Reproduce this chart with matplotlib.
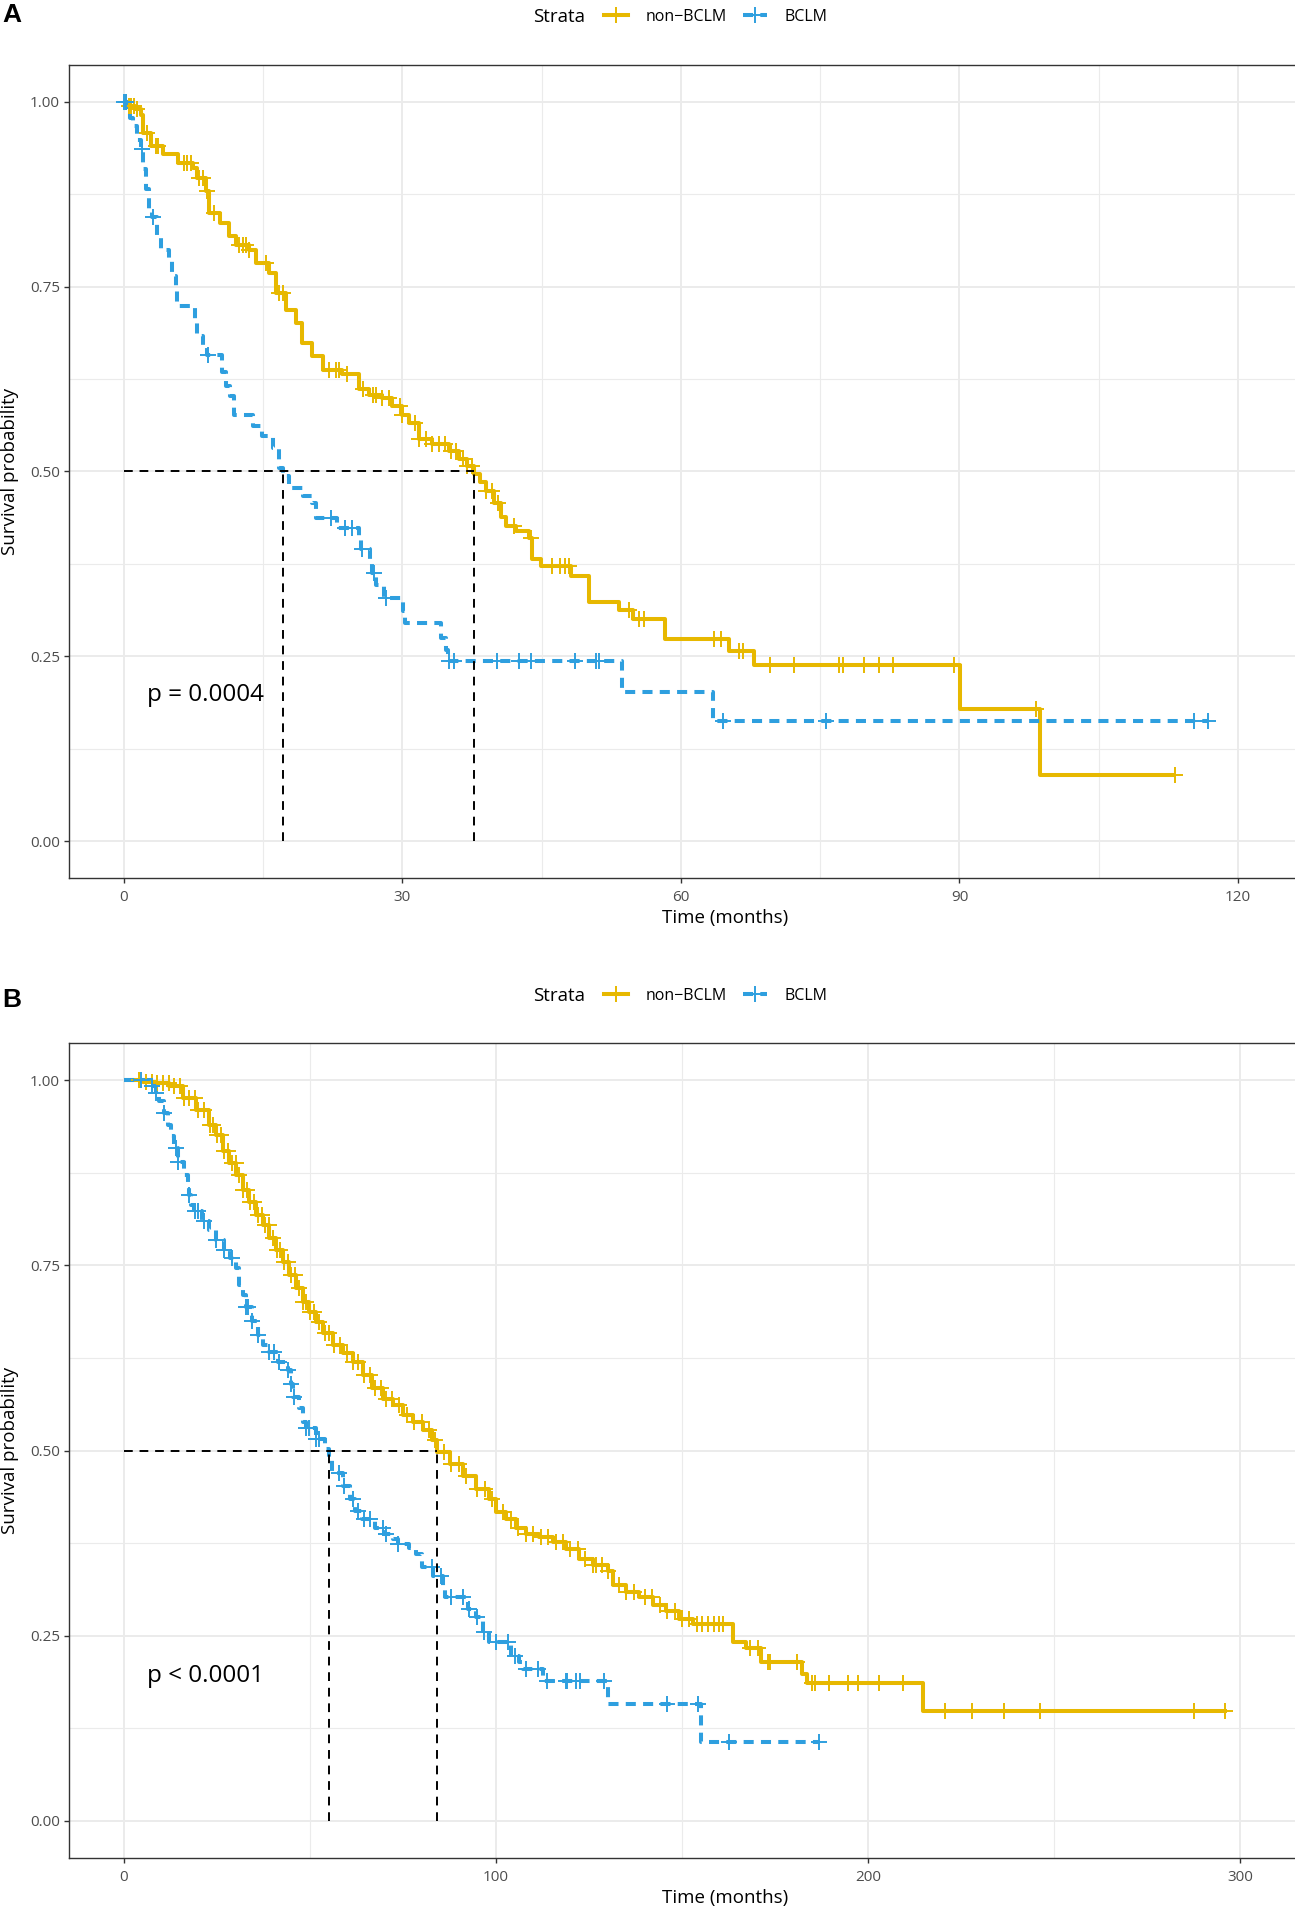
import numpy as np
import matplotlib.pyplot as plt
from matplotlib.lines import Line2D

plt.rcParams['font.family'] = ['Open Sans', 'DejaVu Sans']

W, H = 1295, 1907
YELLOW = '#E7B800'
BLUE = '#2E9FDF'

# ---------------- panel A : step points (time, survival) ----------------
a_non_t = [0, 0.5, 1.2, 1.8, 2.0, 2.9, 4.2, 5.8, 7.4, 7.9, 8.8, 9.2, 10.3, 11.3, 12.1,
           13.5, 14.2, 15.6, 16.4, 17.4, 18.5, 19.2, 20.3, 21.4, 23.5, 25.3, 26.4, 27.8,
           28.9, 30.0, 30.7, 31.8, 33.2, 35.0, 36.1, 37.0, 37.7, 38.3, 39.0, 39.9, 40.6,
           41.1, 42.2, 43.6, 44.0, 44.9, 48.1, 50.1, 53.3, 54.8, 58.3, 65.2, 67.9, 90.1, 98.7]
a_non_s = [1.0, 0.995, 0.99, 0.983, 0.958, 0.94, 0.929, 0.917, 0.911, 0.897, 0.879, 0.85,
           0.836, 0.818, 0.807, 0.8, 0.782, 0.769, 0.742, 0.719, 0.701, 0.674, 0.656, 0.638,
           0.632, 0.611, 0.604, 0.6, 0.589, 0.577, 0.566, 0.544, 0.537, 0.528, 0.517, 0.508,
           0.497, 0.486, 0.473, 0.457, 0.439, 0.426, 0.419, 0.41, 0.381, 0.372, 0.359, 0.324,
           0.313, 0.301, 0.273, 0.257, 0.238, 0.179, 0.09]
a_non_end = 113.2
a_non_cens = [0.2, 0.5, 0.8, 1.1, 1.4, 2.5, 3.4, 3.7, 6.5, 6.8, 7.2, 8.1, 8.5, 8.9, 9.7,
              12.4, 12.8, 13.1, 13.5, 15.3, 16.7, 17.1, 22.1, 22.8, 23.2, 24.0, 25.7, 26.8,
              27.1, 27.8, 28.6, 29.7, 30.0, 31.4, 31.8, 32.5, 33.2, 33.9, 34.6, 35.2, 35.8,
              36.5, 37.0, 37.5, 39.0, 39.6, 40.3, 42.0, 43.8, 46.1, 47.0, 47.5, 47.9, 54.4,
              55.5, 56.0, 63.6, 64.3, 66.3, 66.7, 69.6, 72.2, 77.0, 77.4, 79.7, 81.3, 82.8,
              89.4, 98.2, 113.2]

a_bclm_t = [0, 0.3, 0.7, 1.0, 1.4, 1.8, 2.0, 2.4, 2.7, 3.0, 3.6, 4.0, 4.9, 5.2, 5.6, 5.7,
            7.6, 7.9, 8.5, 8.9, 10.6, 11.0, 11.4, 11.8, 13.9, 14.9, 16.0, 16.7, 17.1, 17.8,
            19.3, 20.2, 20.7, 22.9, 25.3, 25.5, 26.5, 26.7, 27.2, 28.0, 30.1, 30.3, 34.2,
            34.7, 34.9, 53.6, 63.4]
a_bclm_s = [1.0, 0.989, 0.978, 0.967, 0.949, 0.936, 0.909, 0.882, 0.855, 0.844, 0.818, 0.8,
            0.787, 0.764, 0.746, 0.724, 0.706, 0.683, 0.668, 0.657, 0.634, 0.616, 0.602,
            0.577, 0.562, 0.548, 0.532, 0.505, 0.494, 0.478, 0.467, 0.458, 0.437, 0.424,
            0.413, 0.395, 0.377, 0.362, 0.347, 0.329, 0.311, 0.295, 0.275, 0.259, 0.243,
            0.202, 0.162]
a_bclm_end = 116.8
a_bclm_cens = [0.0, 0.2, 1.9, 3.1, 9.0, 22.3, 23.8, 24.6, 25.6, 26.9, 28.2, 35.0, 35.6,
               40.2, 42.6, 43.8, 48.6, 50.8, 51.2, 64.5, 75.6, 115.3, 116.8]

# ---------------- panel B ----------------
b_non_t = [0, 5, 8.6, 12.2, 15.8, 19.4, 22.9, 24.7, 26.5, 28.3, 30.1, 31.9, 33.7, 35.5,
           37.3, 39.1, 40.9, 42.7, 44.4, 46.2, 48.0, 49.8, 51.6, 53.4, 56.1, 58.8, 61.5,
           64.2, 66.8, 69.5, 72.2, 74.9, 77.6, 80.3, 82.9, 84.2, 87.5, 91.0, 94.6, 98.2,
           100.0, 102.7, 105.4, 108.0, 111.6, 115.2, 118.8, 122.4, 126.0, 130.0, 131.4,
           135.0, 138.5, 142.1, 145.7, 149.3, 152.9, 163.6, 167.2, 171.2, 182.2, 183.6, 214.8]
b_non_s = [1.0, 0.998, 0.996, 0.992, 0.976, 0.96, 0.94, 0.926, 0.904, 0.888, 0.872, 0.852,
           0.836, 0.818, 0.805, 0.787, 0.771, 0.755, 0.737, 0.719, 0.701, 0.687, 0.674,
           0.658, 0.642, 0.631, 0.62, 0.602, 0.584, 0.57, 0.561, 0.548, 0.539, 0.527, 0.514,
           0.498, 0.482, 0.466, 0.448, 0.435, 0.417, 0.408, 0.396, 0.387, 0.383, 0.376,
           0.367, 0.354, 0.345, 0.338, 0.318, 0.309, 0.302, 0.291, 0.284, 0.273, 0.266,
           0.241, 0.234, 0.214, 0.198, 0.186, 0.149]
b_non_end = 296.5
b_non_cens = [4, 6, 7.5, 9, 10.5, 12, 13.5, 15, 16, 17.5, 19, 20, 21.5, 23, 24, 25, 26, 27,
              28, 29, 30, 31, 32, 33, 34, 35, 36, 37, 38, 39, 40, 41, 42, 43, 44, 45, 46,
              47, 48, 49, 50, 51, 52.5, 54, 55, 56.5, 58, 60, 61.5, 63, 64.5, 66, 67.5, 69,
              70.5, 72, 74, 76, 78, 80, 82, 83.5, 86, 88, 90, 92, 95, 97, 99, 102, 104, 106,
              108, 110, 112, 114, 116, 118, 120, 122, 124, 126, 127, 128.5, 130, 133, 135,
              137, 140, 142, 144, 146, 148, 150, 152, 154, 155.5, 157, 158.5, 160, 161,
              168.4, 170.3, 173.1, 173.6, 180.8, 185, 185.8, 189.6, 194.6, 197.4, 202.9,
              209.5, 220.6, 227.9, 236.5, 246.2, 287.7, 296.0]

b_bclm_t = [0, 7.3, 8.5, 9.5, 10.8, 11.7, 12.6, 13.5, 14.4, 16.2, 17.1, 17.6, 18.0, 18.9,
            21.0, 22.9, 24.7, 27.0, 28.5, 30.1, 31.0, 31.9, 32.8, 34.5, 35.9, 37.3, 39.1,
            41.5, 44.0, 44.9, 45.3, 47.1, 48.0, 48.9, 51.6, 53.9, 55.0, 55.9, 59.0, 60.8,
            62.1, 63.9, 67.5, 69.8, 72.2, 73.6, 76.7, 78.5, 80.0, 83.0, 85.7, 86.2, 92.4,
            94.6, 96.4, 98.2, 104.0, 106.3, 107.2, 112.5, 130.0, 155.1]
b_bclm_s = [1.0, 0.992, 0.982, 0.972, 0.956, 0.94, 0.924, 0.908, 0.89, 0.872, 0.857, 0.845,
            0.832, 0.823, 0.81, 0.798, 0.784, 0.771, 0.76, 0.746, 0.723, 0.71, 0.694, 0.675,
            0.656, 0.642, 0.633, 0.62, 0.608, 0.59, 0.572, 0.557, 0.539, 0.53, 0.516, 0.502,
            0.491, 0.47, 0.452, 0.434, 0.418, 0.407, 0.396, 0.387, 0.38, 0.374, 0.368, 0.36,
            0.343, 0.331, 0.313, 0.302, 0.286, 0.275, 0.255, 0.241, 0.223, 0.214, 0.205,
            0.189, 0.158, 0.106]
b_bclm_end = 187.0
b_bclm_cens = [4.6, 7.5, 8.5, 10.8, 14.0, 14.6, 17.6, 19.0, 20.0, 21.5, 24.7, 27.0, 29.0,
               32.8, 33.3, 34.5, 35.9, 39.1, 40.3, 41.7, 44.0, 45.0, 45.8, 48.9, 49.8, 51.6,
               52.5, 57.9, 59.2, 61.5, 63.0, 64.5, 66.0, 69.5, 70.5, 73.6, 82.9, 85.2, 88.0,
               91.2, 92.8, 94.9, 96.9, 100.1, 103.2, 105.2, 108.1, 111.2, 113.8, 118.8,
               119.2, 121.4, 122.7, 129.0, 145.9, 154.2, 162.7, 186.9]

legend_labels = ['non\u2212BCLM', 'BCLM']
y_ticks = [0, 0.25, 0.5, 0.75, 1.0]
y_labels = ['0.00', '0.25', '0.50', '0.75', '1.00']


def surv_at(ts, ss, x):
    i = np.searchsorted(ts, x, side='right') - 1
    return np.asarray(ss)[i]


def median(ts, ss):
    for t, s in zip(ts, ss):
        if s <= 0.5:
            return t


def draw_curve(ax, ts, ss, end, cens, color, ls):
    xs = list(ts) + [end]
    ys = list(ss) + [ss[-1]]
    ax.plot(xs, ys, drawstyle='steps-post', color=color, lw=2.9, ls=ls,
            solid_capstyle='butt', dash_capstyle='butt', zorder=3)
    ax.plot(cens, surv_at(ts, ss, cens), ls='none', marker='+', ms=11, mew=1.4,
            color=color, zorder=4)


def panel(rect, curves, pval, xticks, xminor, xlim, letter, letter_y, legend_y):
    ax = fig.add_axes(rect)
    ax.set_xlim(*xlim)
    ax.set_ylim(-0.05, 1.05)
    ax.set_xticks(xticks)
    ax.set_xticks(xminor, minor=True)
    ax.set_yticks(y_ticks)
    ax.set_yticklabels(y_labels)
    ax.set_yticks([0.125, 0.375, 0.625, 0.875], minor=True)
    ax.grid(True, which='major', color='#EBEBEB', lw=1.4, zorder=0)
    ax.grid(True, which='minor', color='#EBEBEB', lw=0.8, zorder=0)
    ax.set_axisbelow(True)
    for sp in ax.spines.values():
        sp.set_color('#333333')
        sp.set_linewidth(1.0)
    ax.tick_params(which='major', length=3.6, width=1.0, color='#333333',
                   labelcolor='#4D4D4D', labelsize=11, pad=3)
    ax.tick_params(axis='x', which='major', pad=5)
    ax.tick_params(which='minor', length=0)

    (nt, ns, ne, nc), (bt, bs, be, bc) = curves
    draw_curve(ax, nt, ns, ne, nc, YELLOW, '-')
    draw_curve(ax, bt, bs, be, bc, BLUE, (0, (2.5, 1.8)))

    m1, m2 = median(bt, bs), median(nt, ns)
    dash = dict(color='black', lw=1.4, ls=(0, (4.5, 3.5)), zorder=5)
    ax.plot([0, max(m1, m2)], [0.5, 0.5], **dash)
    ax.plot([m1, m1], [0, 0.5], **dash)
    ax.plot([m2, m2], [0, 0.5], **dash)

    ax.text(pval[0], pval[1], pval[2], fontsize=17.5, ha='left', va='center')

    ax.set_xlabel('Time (months)', fontsize=13.5)
    ax.xaxis.set_label_coords(0.5, -40 / (rect[3] * H))
    ax.xaxis.label.set_va('center')
    ax.set_ylabel('Survival probability', fontsize=13.5)
    ax.yaxis.set_label_coords(-59 / (rect[2] * W), 0.5)
    ax.yaxis.label.set_va('center')

    fig.text(2 / W, 1 - letter_y / H, letter, fontsize=19, fontweight='bold',
             family='Liberation Sans', ha='left', va='center')
    fig.text(559 / W, 1 - legend_y / H, 'Strata', fontsize=13.5, ha='center', va='center')
    handles = [Line2D([], [], color=YELLOW, lw=2.9, marker='+', ms=11, mew=1.4),
               Line2D([], [], color=BLUE, lw=2.9, ls=(0, (2.5, 1.8)), marker='+', ms=11,
                      mew=1.4)]
    fig.legend(handles, legend_labels, ncol=2, frameon=False, fontsize=11.5,
               loc='center left', bbox_to_anchor=(604 / W, 1 - legend_y / H),
               handlelength=1.5, handletextpad=1.1, columnspacing=1.0, numpoints=1,
               borderpad=0, borderaxespad=0)
    return ax


fig = plt.figure(figsize=(W / 100, H / 100), dpi=100)

left, right = 69, 1381
pxA = 9.283
panel([left / W, 1 - 878 / H, (right - left) / W, (878 - 65) / H],
      [(a_non_t, a_non_s, a_non_end, a_non_cens), (a_bclm_t, a_bclm_s, a_bclm_end, a_bclm_cens)],
      (2.5, 0.197, 'p = 0.0004'), [0, 30, 60, 90, 120], [15, 45, 75, 105, 135],
      ((left - 124) / pxA, (right - 124) / pxA), 'A', 15, 17)

pxB = 3.72
panel([left / W, 1 - 1858 / H, (right - left) / W, (1858 - 1043) / H],
      [(b_non_t, b_non_s, b_non_end, b_non_cens), (b_bclm_t, b_bclm_s, b_bclm_end, b_bclm_cens)],
      (6.2, 0.195, 'p < 0.0001'), [0, 100, 200, 300], [50, 150, 250],
      ((left - 124) / pxB, (right - 124) / pxB), 'B', 1000, 996)

fig.savefig('out.png', dpi=100)
